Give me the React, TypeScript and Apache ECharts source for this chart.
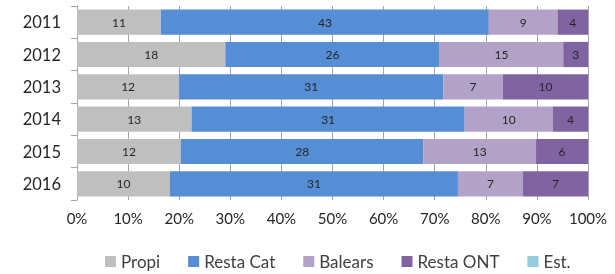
import React, { useEffect, useRef } from "react";
import * as echarts from "echarts";

const years = ["2011", "2012", "2013", "2014", "2015", "2016"];
const propi = [11, 18, 12, 13, 12, 10];
const restaCat = [43, 26, 31, 31, 28, 31];
const balears = [9, 15, 7, 10, 13, 7];
const restaONT = [4, 3, 10, 4, 6, 7];
const est = [0, 0, 0, 0, 0, 0];
const xTicks = ["0%", "10%", "20%", "30%", "40%", "50%", "60%", "70%", "80%", "90%", "100%"];

const seriesDefs = [
  { name: "Propi", data: propi, color: "#BFBFBF" },
  { name: "Resta Cat", data: restaCat, color: "#558ED5" },
  { name: "Balears", data: balears, color: "#B3A2C7" },
  { name: "Resta ONT", data: restaONT, color: "#8064A2" },
  { name: "Est.", data: est, color: "#93CDDD" },
];

export default function App() {
  const ref = useRef<HTMLDivElement>(null);
  useEffect(() => {
    if (!ref.current) return;
    const chart = echarts.init(ref.current, undefined, { renderer: "svg" });
    const totals = years.map((_, i) =>
      seriesDefs.reduce((s, d) => s + d.data[i], 0)
    );
    const font = "Lato, 'Open Sans', sans-serif";
    chart.setOption({
      animation: false,
      textStyle: { fontFamily: font },
      grid: { left: 77, right: 27, top: 6, bottom: 74, containLabel: false },
      legend: {
        top: 253,
        left: 105,
        padding: 0,
        itemWidth: 11,
        itemHeight: 11,
        itemGap: 28,
        icon: "rect",
        textStyle: { fontSize: 17, color: "#404040", fontFamily: font },
        data: seriesDefs.map((d) => d.name),
      },
      xAxis: {
        type: "value",
        min: 0,
        max: 100,
        interval: 10,
        axisLine: { show: false },
        axisTick: { show: false },
        splitLine: { show: true, lineStyle: { color: "#A6A6A6", width: 1 } },
        axisLabel: {
          margin: 10,
          fontSize: 15,
          color: "#262626",
          fontFamily: font,
          formatter: (v: number) => xTicks[Math.round(v / 10)],
        },
      },
      yAxis: {
        type: "category",
        inverse: true,
        data: years,
        axisLine: { show: true, lineStyle: { color: "#A6A6A6" } },
        axisTick: { show: true, length: 6, lineStyle: { color: "#A6A6A6" } },
        axisLabel: { margin: 16, fontSize: 16.5, color: "#262626", fontFamily: font },
      },
      series: seriesDefs.map((d) => ({
        name: d.name,
        type: "bar",
        stack: "total",
        barCategoryGap: "22%",
        itemStyle: { color: d.color },
        label: {
          show: true,
          position: "inside",
          fontSize: 12,
          color: "#262626",
          fontFamily: font,
          formatter: (p: any) => {
            const raw = d.data[p.dataIndex];
            return raw ? String(raw) : "";
          },
        },
        data: d.data.map((v, i) => (v / totals[i]) * 100),
      })),
    });
    return () => chart.dispose();
  }, []);
  return (
    <div
      ref={ref}
      style={{ position: "fixed", left: 0, top: 0, width: 615, height: 274 }}
    />
  );
}
